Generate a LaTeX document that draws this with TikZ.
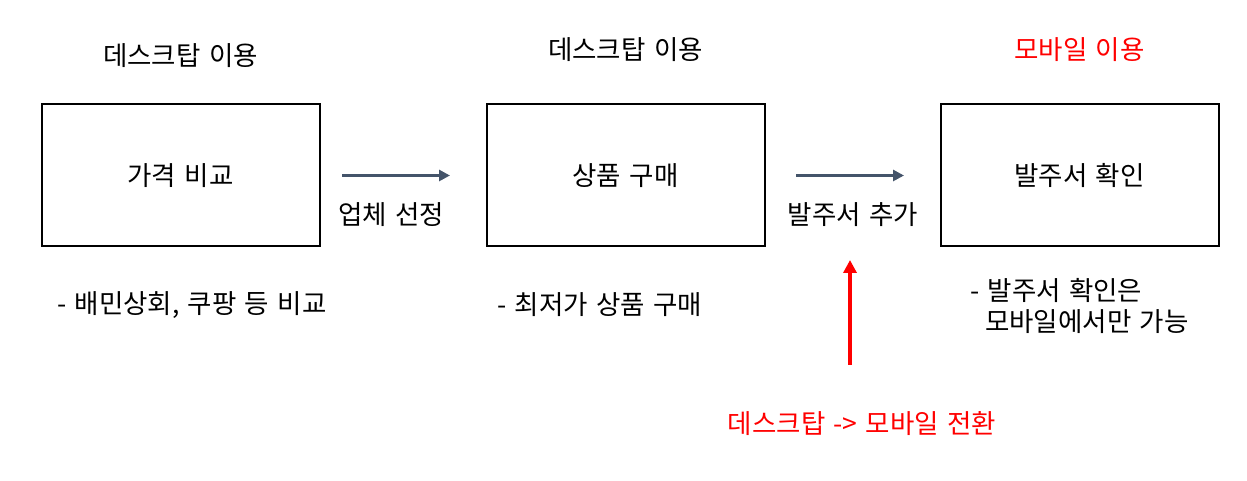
\documentclass[tikz,border=0pt]{standalone}
\usepackage{fontspec}
\setmainfont{Noto Sans CJK KR}[WordSpace=1.4]
\usetikzlibrary{arrows.meta, positioning}
\definecolor{arrowslate}{RGB}{68,84,106}
\definecolor{switchred}{RGB}{255,0,0}
\tikzset{
  base/.style     = {font=\fontsize{26.5}{32}\selectfont, inner sep=0pt},
  stagebox/.style = {base, draw=black, line width=2pt,
                     minimum width=278pt, minimum height=142pt},
  head/.style     = {base},
  note/.style     = {base, align=left, anchor=west},
  arr/.style      = {-{Triangle[length=11pt, width=11pt]}, line width=3pt, color=arrowslate},
  redarr/.style   = {-{Triangle[length=13pt, width=13pt]}, line width=4pt, color=switchred},
}

\begin{document}
\begin{tikzpicture}[x=1pt, y=1pt]
  \useasboundingbox (0,0) rectangle (1247,481);

  % three stages
  \node[stagebox] (cmp) at (180.5,305.5) {가격 비교};
  \node[stagebox, right=165pt of cmp] (buy) {상품 구매};
  \node[stagebox, right=174pt of buy] (chk) {발주서 확인};

  % where each stage happens
  \node[head, above=36pt of cmp] (cmphead) {데스크탑 이용};
  \node[head, above=42pt of buy] (buyhead) {데스크탑 이용};
  \node[head, above=42pt of chk, text=switchred] (chkhead) {모바일 이용};

  % steps between stages
  \draw[arr, shorten <=21.5pt, shorten >=35.5pt] (cmp) -- (buy);
  \draw[arr, shorten <=30.5pt, shorten >=35.5pt] (buy) -- (chk);
  \node[base] (pick) at (391,266) {업체 선정};
  \node[base] (add)  at (853,266) {발주서 추가};

  % notes under the stages
  \node[note] (cmpnote) at (57,176)  {- 배민상회, 쿠팡 등 비교};
  \node[note] (buynote) at (497,176) {- 최저가 상품 구매};
  \node[note] (chknote) at (970,175) {- 발주서 확인은\\\hspace*{15pt}모바일에서만 가능};

  % device switch
  \node[base, text=switchred] (switch) at (862,57) {데스크탑 -> 모바일 전환};
  \coordinate (upfrom) at (850,116);
  \coordinate (upto)   at (850,221);
  \draw[redarr] (upfrom) -- (upto);
\end{tikzpicture}
\end{document}
